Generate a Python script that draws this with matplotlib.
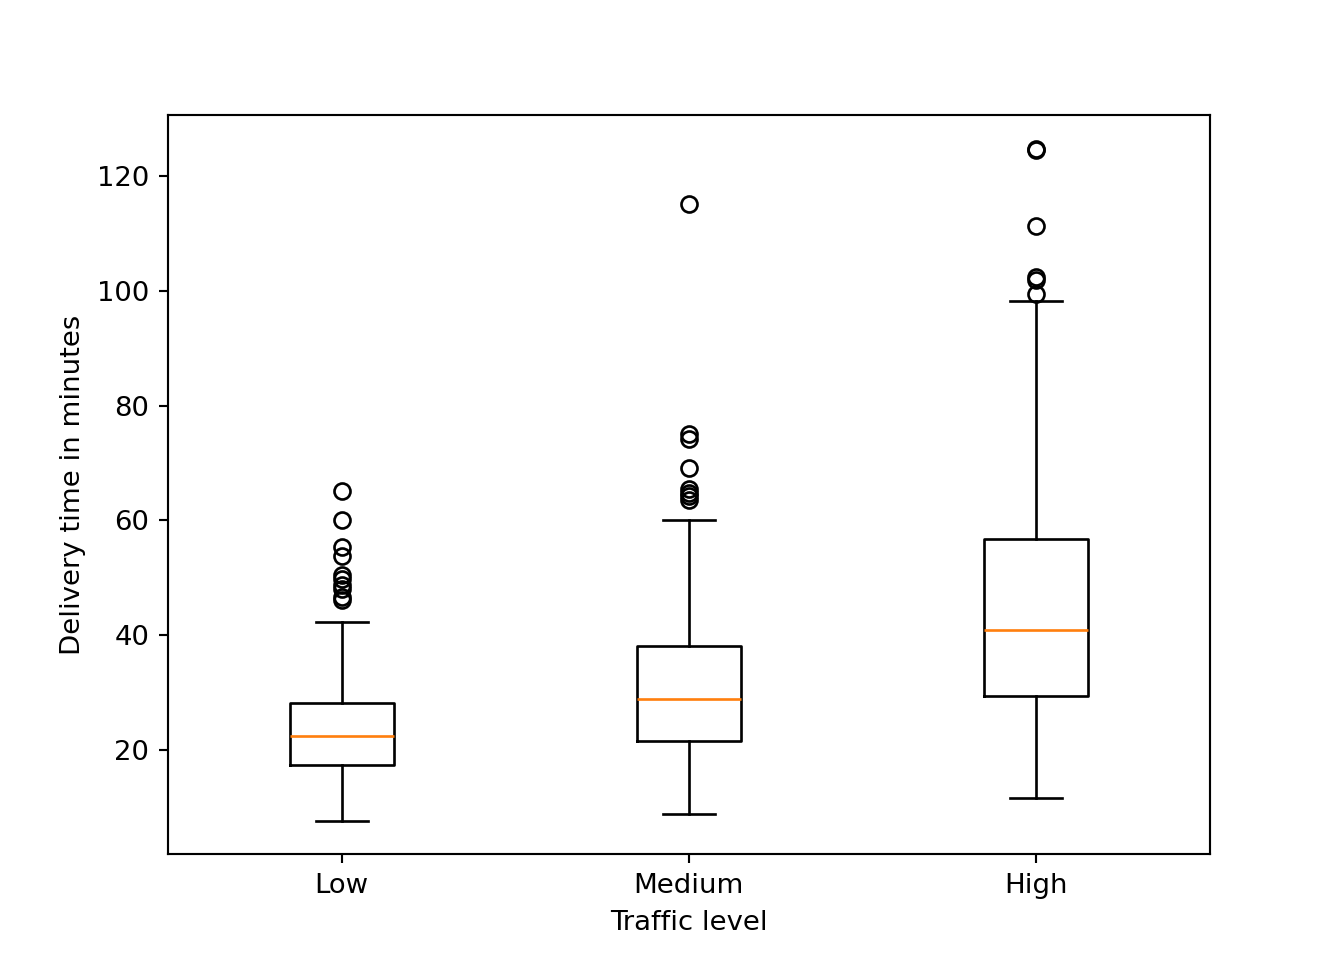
import numpy as np
import matplotlib
matplotlib.use('Agg')
import matplotlib.pyplot as plt

levels = ['Low', 'Medium', 'High']
whislo = [7.6, 8.7, 11.6]
q1 = [17.4, 21.6, 29.4]
med = [22.4, 28.9, 40.9]
q3 = [28.2, 38.0, 56.8]
whishi = [42.3, 60.1, 98.2]
fliers = [
    [65.2, 60.1, 55.3, 53.8, 50.5, 49.8, 48.8, 48.0, 46.6, 46.1],
    [115.1, 75.0, 74.2, 69.2, 65.4, 64.8, 64.2, 63.5],
    [124.8, 124.6, 111.3, 102.4, 102.0, 99.5],
]

stats = []
for i in range(len(levels)):
    stats.append(dict(label=levels[i], whislo=whislo[i], q1=q1[i], med=med[i],
                      q3=q3[i], whishi=whishi[i], fliers=fliers[i]))

plt.rcParams['font.size'] = 10.3
fig, ax = plt.subplots(figsize=(7, 5), dpi=192)
ax.bxp(stats)
ax.set_xlabel('Traffic level')
ax.set_ylabel('Delivery time in minutes')
fig.savefig('out.png')
